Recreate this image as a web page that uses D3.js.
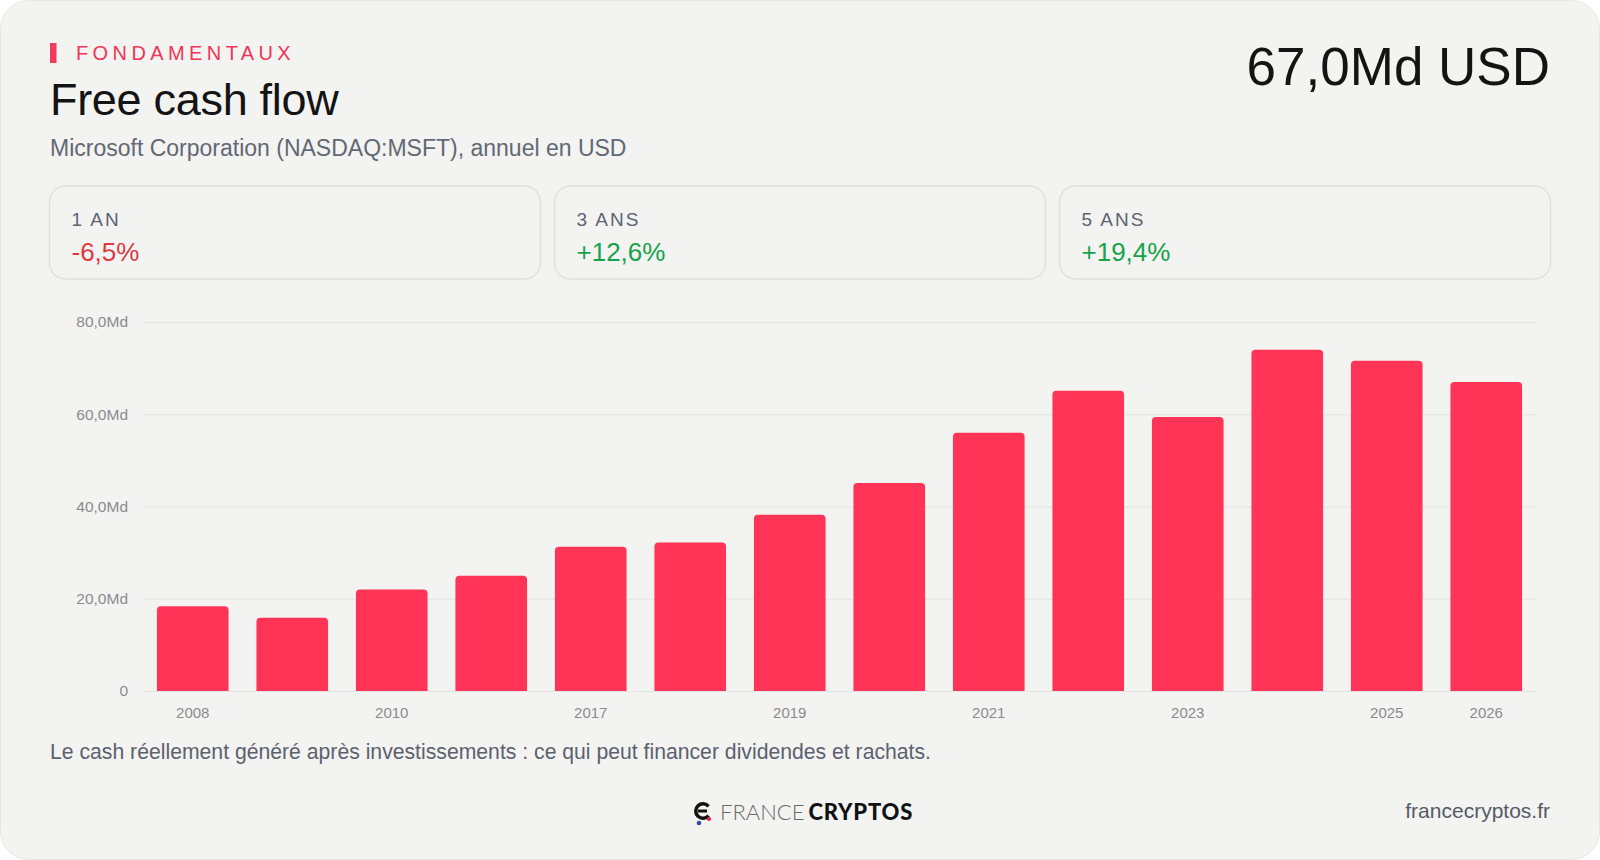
<!DOCTYPE html>
<html>
<head>
<meta charset="utf-8">
<style>
    html, body { margin: 0; padding: 0; background: #ffffff; }
    svg text { font-family: "Liberation Sans", Arial, Helvetica, sans-serif; }
</style>
</head>
<body>
    <div class="graph"></div>

    <script src="https://d3js.org/d3.v7.min.js"></script>
    <script>
        // data
        var years = ['2008', '2009', '2010', '2016', '2017', '2018', '2019', '2020', '2021', '2022', '2023', '2024', '2025', '2026']
        var fcf = [18.4, 15.9, 22.0, 25.0, 31.3, 32.2, 38.2, 45.1, 56.0, 65.1, 59.4, 74.0, 71.6, 67.0]
        var xTickYears = ['2008', '2010', '2017', '2019', '2021', '2023', '2025', '2026']
        var yTicks = [0, 20, 40, 60, 80]
        var yTickLabels = ['0', '20,0Md', '40,0Md', '60,0Md', '80,0Md']
        var periods = ['1 AN', '3 ANS', '5 ANS']
        var changes = ['-6,5%', '+12,6%', '+19,4%']

        var width = 1600,
            height = 860

        var svg = d3.select('.graph').append('svg')
            .attr('width', width)
            .attr('height', height)

        // card background
        svg.append('rect')
            .attr('x', 0.5).attr('y', 0.5)
            .attr('width', width - 1).attr('height', height - 1)
            .attr('rx', 28)
            .style('fill', '#f3f3f1')
            .style('stroke', '#e6e6e4')

        // header
        svg.append('rect')
            .attr('x', 50).attr('y', 43)
            .attr('width', 6.5).attr('height', 20)
            .style('fill', '#f23a5a')

        svg.append('text')
            .attr('x', 76).attr('y', 60)
            .style('font-size', '20px')
            .style('letter-spacing', '4.4px')
            .style('fill', '#ee3555')
            .text('FONDAMENTAUX')

        svg.append('text')
            .attr('x', 50).attr('y', 115)
            .style('font-size', '45px')
            .style('letter-spacing', '-0.3px')
            .style('fill', '#141414')
            .text('Free cash flow')

        svg.append('text')
            .attr('x', 50).attr('y', 156)
            .style('font-size', '23px')
            .style('fill', '#626874')
            .text('Microsoft Corporation (NASDAQ:MSFT), annuel en USD')

        svg.append('text')
            .attr('x', 1550).attr('y', 85)
            .attr('text-anchor', 'end')
            .style('font-size', '53px')
            .style('fill', '#141414')
            .text('67,0Md USD')

        // stat cards
        var cardW = 491, cardGap = 14
        var cards = svg.append('g').selectAll('g')
            .data(periods)
            .enter().append('g')
            .attr('transform', function (d, i) {
                return 'translate(' + (49.5 + i * (cardW + cardGap)) + ',186)'
            })

        cards.append('rect')
            .attr('width', cardW).attr('height', 93)
            .attr('rx', 16)
            .style('fill', '#f3f3f1')
            .style('stroke', '#e0e0de')
            .style('stroke-width', 1.5)

        cards.append('text')
            .attr('x', 22).attr('y', 40)
            .style('font-size', '19px')
            .style('letter-spacing', '2px')
            .style('fill', '#5d6371')
            .text(function (d) { return d })

        cards.append('text')
            .attr('x', 22).attr('y', 75)
            .style('font-size', '26px')
            .style('fill', function (d, i) { return changes[i].charAt(0) == '-' ? '#dc3a40' : '#16a34a' })
            .text(function (d, i) { return changes[i] })

        // chart
        var plotLeft = 143, plotRight = 1536, plotTop = 322, plotBottom = 691

        var x = d3.scaleBand()
            .domain(years)
            .range([plotLeft, plotRight])
            .paddingInner(0.28)
            .paddingOuter(0.14)

        var y = d3.scaleLinear()
            .domain([0, 80])
            .range([plotBottom, plotTop])

        var y_axis = svg.append('g')
            .attr('class', 'y axis')
            .attr('transform', 'translate(' + plotLeft + ',0)')
            .call(d3.axisLeft(y)
                .tickValues(yTicks)
                .tickFormat(function (d, i) { return yTickLabels[i] })
                .tickSizeInner(-(plotRight - plotLeft))
                .tickSizeOuter(0)
                .tickPadding(15))

        y_axis.select('.domain').remove()
        y_axis.selectAll('line').style('stroke', '#e3e3e1').style('stroke-width', 1.2)
        y_axis.selectAll('text')
            .style('font-size', '15.5px')
            .style('fill', '#8b8b8d')
            .style('font-family', '"Liberation Sans", Arial, sans-serif')

        var r = 4
        svg.append('g').selectAll('path')
            .data(fcf)
            .enter().append('path')
            .attr('d', function (d, i) {
                var x0 = x(years[i]), w = x.bandwidth(), y0 = y(d), y1 = y(0)
                return 'M' + x0 + ',' + y1 +
                    'V' + (y0 + r) +
                    'Q' + x0 + ',' + y0 + ' ' + (x0 + r) + ',' + y0 +
                    'H' + (x0 + w - r) +
                    'Q' + (x0 + w) + ',' + y0 + ' ' + (x0 + w) + ',' + (y0 + r) +
                    'V' + y1 + 'Z'
            })
            .style('fill', '#ff3456')

        var x_axis = svg.append('g')
            .attr('class', 'x axis')
            .attr('transform', 'translate(0,' + plotBottom + ')')
            .call(d3.axisBottom(x)
                .tickValues(xTickYears)
                .tickSize(0)
                .tickPadding(16))

        x_axis.select('.domain').remove()
        x_axis.selectAll('text')
            .style('font-size', '15px')
            .style('fill', '#8b8b8d')
            .style('font-family', '"Liberation Sans", Arial, sans-serif')

        // footer
        svg.append('text')
            .attr('x', 50).attr('y', 759)
            .style('font-size', '21.2px')
            .style('fill', '#5b616e')
            .text('Le cash réellement généré après investissements : ce qui peut financer dividendes et rachats.')

        svg.append('text')
            .attr('x', 1550).attr('y', 818)
            .attr('text-anchor', 'end')
            .style('font-size', '21px')
            .style('fill', '#555b66')
            .text('francecryptos.fr')

        // logo
        var logo = svg.append('g').attr('transform', 'translate(694,812)')
        logo.append('path')
            .attr('d', d3.arc()({ innerRadius: 5.5, outerRadius: 9, startAngle: Math.PI / 2 + 0.7, endAngle: 2.5 * Math.PI - 0.7 }))
            .attr('transform', 'translate(9,-1)')
            .style('fill', '#111')
        logo.append('rect')
            .attr('x', 4).attr('y', -2.5).attr('width', 9).attr('height', 3)
            .style('fill', '#111')
        logo.append('circle').attr('cx', 5).attr('cy', 11).attr('r', 2.3).style('fill', '#2f4fa8')
        logo.append('circle').attr('cx', 15).attr('cy', 7).attr('r', 2.1).style('fill', '#e0243d')

        var logoText = logo.append('text')
            .attr('x', 26).attr('y', 8)
            .style('font-size', '22px')
            .style('font-family', 'Lato, "Open Sans", sans-serif')
        logoText.append('tspan')
            .style('font-weight', 300)
            .style('fill', '#6a6a6a')
            .text('FRANCE')
        logoText.append('tspan')
            .attr('dx', 4)
            .style('font-weight', 900)
            .style('fill', '#111')
            .style('letter-spacing', '0.8px')
            .text('CRYPTOS')
    </script>
</body>

</html>
